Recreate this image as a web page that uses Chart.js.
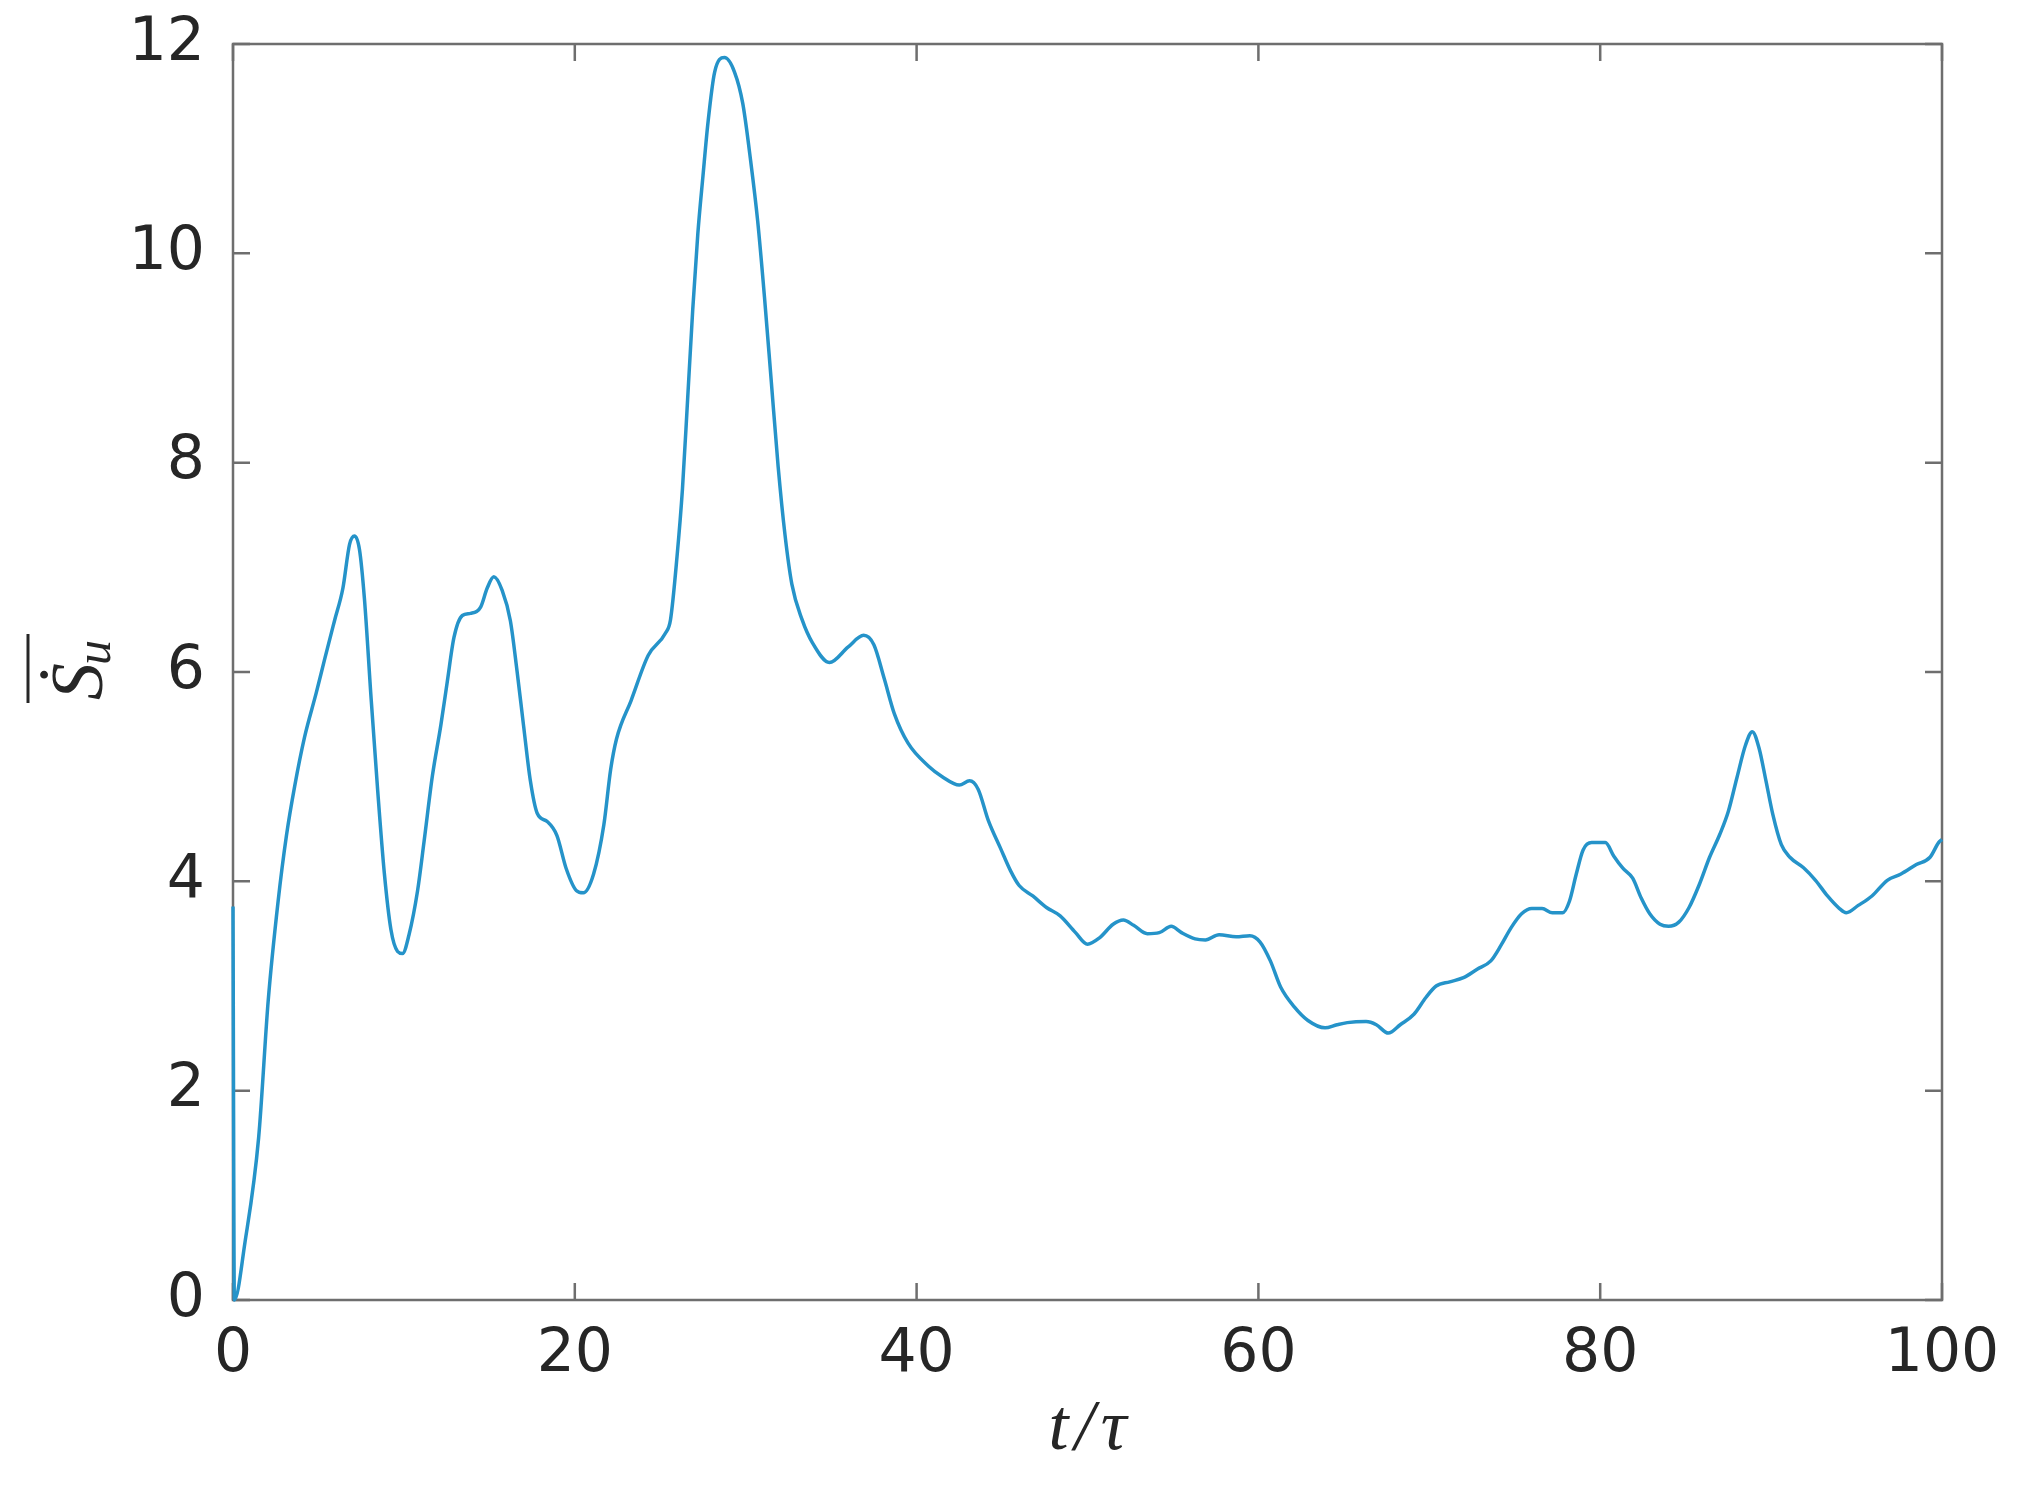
<!DOCTYPE html>
<html>
<head>
<meta charset="utf-8">
<script src="https://cdn.jsdelivr.net/npm/chart.js@4.4.1/dist/chart.umd.min.js"></script>
<style>
  html, body { margin: 0; padding: 0; background: #fff; }
  canvas { display: block; }
</style>
</head>
<body>
<canvas id="graphique" width="2019" height="1495"></canvas>
<script>
/* ── Données ────────────────────────────────────────────── */
const tTau = [
  0, 0.08, 0.7, 1.5, 2.06, 2.64, 3.13, 3.61, 4.19, 4.87,
  5.36, 5.94, 6.43, 6.82, 7.11, 7.4, 7.69, 8.08, 8.47, 8.86,
  9.24, 9.63, 9.92, 10.3, 10.8, 11.18, 11.67, 12.16, 12.54, 12.93,
  13.42, 13.9, 14.49, 14.87, 15.26, 15.75, 16.23, 16.62, 17.0, 17.4,
  17.8, 18.4, 18.95, 19.5, 20.1, 20.5, 21.1, 21.7, 22.1, 22.44,
  23.3, 24.3, 25.3, 25.6, 25.98, 26.3, 26.6, 26.9, 27.2, 27.5,
  27.8, 28.18, 28.76, 29.35, 29.83, 30.3, 30.7, 31.1, 31.5, 31.9,
  32.3, 32.7, 33.3, 33.9, 34.9, 36.0, 36.9, 37.5, 38.1, 38.7,
  39.5, 40.7, 41.5, 42.5, 43.1, 43.6, 44.2, 44.9, 45.5, 46.0,
  46.8, 47.6, 48.4, 49.3, 50.0, 50.7, 51.5, 52.1, 52.7, 53.5,
  54.2, 54.9, 55.5, 56.3, 56.9, 57.7, 58.7, 59.5, 60.1, 60.7,
  61.3, 62.1, 62.9, 63.9, 64.6, 65.2, 66.3, 66.9, 67.6, 68.3,
  69.1, 69.8, 70.4, 71.2, 72.0, 72.8, 73.6, 74.2, 74.8, 75.4,
  76.0, 76.6, 77.2, 77.8, 78.2, 78.6, 79.0, 79.5, 80.3, 80.8,
  81.3, 81.9, 82.4, 82.9, 83.5, 84.0, 84.6, 85.2, 85.8, 86.4,
  87.0, 87.5, 88.0, 88.5, 88.9, 89.3, 89.7, 90.1, 90.6, 91.1,
  91.9, 92.6, 93.3, 94.0, 94.4, 95.1, 95.9, 96.8, 97.6, 98.5,
  99.3, 99.8, 100
];

const sDot = [
  3.76, 0.0, 0.55, 1.55, 2.86, 3.81, 4.44, 4.91, 5.38, 5.80,
  6.12, 6.49, 6.80, 7.22, 7.30, 7.17, 6.70, 5.75, 4.86, 4.07,
  3.54, 3.33, 3.31, 3.49, 3.91, 4.38, 5.01, 5.49, 5.91, 6.33,
  6.54, 6.56, 6.62, 6.80, 6.91, 6.78, 6.49, 6.01, 5.49, 4.96,
  4.65, 4.57, 4.44, 4.12, 3.91, 3.89, 4.07, 4.54, 5.07, 5.36,
  5.73, 6.16, 6.37, 6.50, 7.10, 7.75, 8.60, 9.46, 10.19, 10.74,
  11.26, 11.73, 11.87, 11.73, 11.43, 10.87, 10.31, 9.58, 8.77, 7.96,
  7.31, 6.84, 6.50, 6.28, 6.09, 6.24, 6.35, 6.26, 5.94, 5.60,
  5.32, 5.10, 5.00, 4.92, 4.96, 4.88, 4.58, 4.32, 4.10, 3.96,
  3.86, 3.75, 3.67, 3.51, 3.40, 3.46, 3.59, 3.63, 3.58, 3.50,
  3.51, 3.57, 3.51, 3.45, 3.44, 3.49, 3.47, 3.48, 3.42, 3.24,
  2.99, 2.80, 2.67, 2.60, 2.63, 2.65, 2.66, 2.63, 2.55, 2.63,
  2.73, 2.89, 3.00, 3.04, 3.08, 3.16, 3.24, 3.39, 3.56, 3.69,
  3.74, 3.74, 3.70, 3.70, 3.81, 4.07, 4.30, 4.37, 4.37, 4.24,
  4.13, 4.03, 3.84, 3.69, 3.59, 3.57, 3.61, 3.75, 3.97, 4.23,
  4.45, 4.67, 4.99, 5.30, 5.43, 5.27, 4.96, 4.64, 4.35, 4.23,
  4.13, 4.01, 3.86, 3.74, 3.70, 3.77, 3.86, 4.01, 4.07, 4.16,
  4.23, 4.37, 4.40
];

const xTicks = [0, 20, 40, 60, 80, 100];
const yTicks = [0, 2, 4, 6, 8, 10, 12];

const COUL_AXE   = '#6e6e6e';
const COUL_TEXTE = '#262626';
const COUL_LIGNE = '#2593c9';
const LONG_TICK  = 17;

/* ── Cadre + graduations intérieures (style MATLAB) ──────── */
const cadrePlugin = {
  id: 'cadre',
  beforeDatasetsDraw(chart) {
    const { ctx, chartArea: a, scales: { x, y } } = chart;
    ctx.save();
    ctx.strokeStyle = COUL_AXE;
    ctx.lineWidth = 2.5;
    ctx.strokeRect(a.left, a.top, a.right - a.left, a.bottom - a.top);
    ctx.beginPath();
    xTicks.forEach(v => {
      const px = x.getPixelForValue(v);
      ctx.moveTo(px, a.bottom); ctx.lineTo(px, a.bottom - LONG_TICK);
      ctx.moveTo(px, a.top);    ctx.lineTo(px, a.top + LONG_TICK);
    });
    yTicks.forEach(v => {
      const py = y.getPixelForValue(v);
      ctx.moveTo(a.left, py);  ctx.lineTo(a.left + LONG_TICK, py);
      ctx.moveTo(a.right, py); ctx.lineTo(a.right - LONG_TICK, py);
    });
    ctx.stroke();
    ctx.restore();
  },
  afterDraw(chart) {
    // titre de l'axe y : S point, indice u, barre au-dessus
    const { ctx, chartArea: a } = chart;
    const yc = (a.top + a.bottom) / 2;
    ctx.save();
    ctx.translate(102, yc + 28);
    ctx.rotate(-Math.PI / 2);
    ctx.fillStyle = COUL_TEXTE;
    ctx.textBaseline = 'alphabetic';
    ctx.textAlign = 'left';
    ctx.font = 'italic 74px "Liberation Serif"';
    ctx.fillText('\u1E60', 0, 0);
    const wS = ctx.measureText('\u1E60').width;
    ctx.font = 'italic 50px "Liberation Serif"';
    ctx.fillText('u', wS - 2, 8);
    const wU = ctx.measureText('u').width;
    ctx.strokeStyle = COUL_TEXTE;
    ctx.lineWidth = 3;
    ctx.beginPath();
    ctx.moveTo(-3, -74);
    ctx.lineTo(wS + wU + 4, -74);
    ctx.stroke();
    ctx.restore();
  }
};

/* ── Graphique ──────────────────────────────────────────── */
const canvas = document.getElementById('graphique');
new Chart(canvas, {
  type: 'line',
  data: {
    datasets: [{
      data: tTau.map((t, i) => ({ x: t, y: sDot[i] })),
      borderColor: COUL_LIGNE,
      borderWidth: 3.5,
      pointRadius: 0,
      fill: false,
      cubicInterpolationMode: 'monotone',
      clip: 6
    }]
  },
  options: {
    responsive: false,
    animation: false,
    devicePixelRatio: 1,
    layout: { padding: { top: 44, right: 77, left: 0, bottom: 0 } },
    plugins: {
      legend: { display: false },
      tooltip: { enabled: false }
    },
    scales: {
      x: {
        type: 'linear',
        min: 0, max: 100,
        afterBuildTicks: s => { s.ticks = xTicks.map(v => ({ value: v })); },
        afterFit: s => { s.height = 195; s.paddingLeft = 0; s.paddingRight = 0; },
        grid: { display: false, drawTicks: false },
        border: { display: false },
        ticks: {
          padding: 19,
          color: COUL_TEXTE,
          maxRotation: 0,
          font: { family: '"DejaVu Sans"', size: 60 }
        },
        title: {
          display: true,
          text: 't\u200A/\u200A\u03C4',
          color: COUL_TEXTE,
          padding: { top: 0, bottom: 22 },
          font: { family: '"Liberation Serif"', style: 'italic', size: 72 }
        }
      },
      y: {
        type: 'linear',
        min: 0, max: 12,
        afterBuildTicks: s => { s.ticks = yTicks.map(v => ({ value: v })); },
        afterFit: s => { s.width = 233; s.paddingTop = 0; s.paddingBottom = 0; },
        grid: { display: false, drawTicks: false },
        border: { display: false },
        ticks: {
          padding: 28,
          color: COUL_TEXTE,
          font: { family: '"DejaVu Sans"', size: 60 }
        }
      }
    }
  },
  plugins: [cadrePlugin]
});
</script>
</body>
</html>
